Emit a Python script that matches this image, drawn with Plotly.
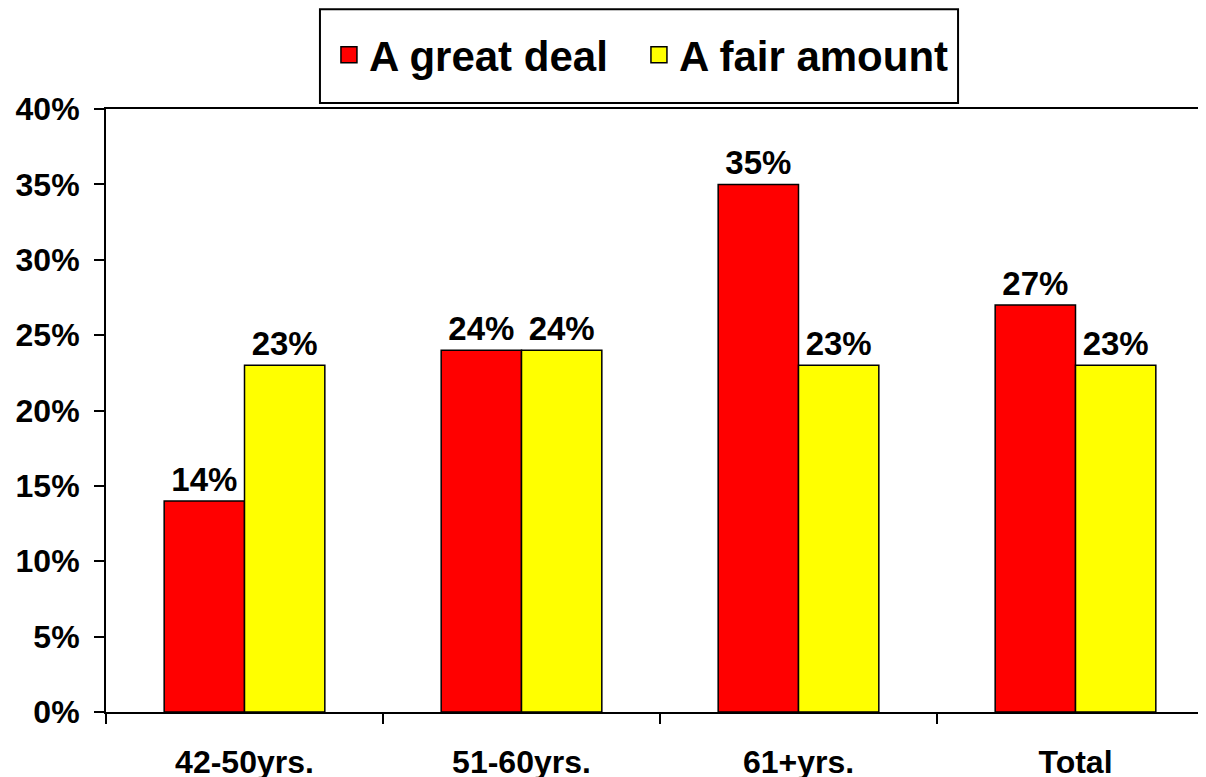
import plotly.graph_objects as go

categories = ["42-50yrs.", "51-60yrs.", "61+yrs.", "Total"]
great_deal = [14, 24, 35, 27]
fair_amount = [23, 24, 23, 23]
series_names = ["A great deal", "A fair amount"]
series_colors = ["#FF0000", "#FFFF00"]
tick_vals = [0, 5, 10, 15, 20, 25, 30, 35, 40]
tick_text = [f"{v}%" for v in tick_vals]

FONT = "Liberation Sans, Arial, sans-serif"

fig = go.Figure()
for name, vals, col in [(series_names[0], great_deal, series_colors[0]),
                        (series_names[1], fair_amount, series_colors[1])]:
    fig.add_trace(go.Bar(
        x=categories, y=vals, name=name, showlegend=False,
        marker=dict(color=col, line=dict(color="#000000", width=1.5)),
        text=[f"{v}%" for v in vals],
        textposition="outside",
        textfont=dict(family=FONT, size=33, color="#000000", weight="bold"),
        cliponaxis=False,
    ))

# legend proxies (larger square swatches)
for name, col in zip(series_names, series_colors):
    fig.add_trace(go.Scatter(
        x=[categories[0]], y=[None], mode="markers", name=name,
        marker=dict(symbol="square", size=16, color=col,
                    line=dict(color="#000000", width=1.5)),
        hoverinfo="skip",
    ))

fig.update_layout(
    width=1206, height=777,
    margin=dict(l=98, r=0, t=101, b=73),
    paper_bgcolor="white", plot_bgcolor="white",
    barmode="group", bargap=0.42, bargroupgap=0,
    font=dict(family=FONT, color="#000000"),
    showlegend=True,
    legend=dict(
        orientation="h", x=0.481, xanchor="center", y=1.0896, yanchor="middle",
        borderwidth=0, bgcolor="rgba(0,0,0,0)",
        font=dict(family=FONT, size=42, color="#000000", weight="bold"),
        itemwidth=30, traceorder="normal",
        entrywidth=265, entrywidthmode="pixels",
    ),
    shapes=[dict(type="rect", xref="paper", yref="paper",
                 x0=0.1931, x1=0.769, y0=1.010, y1=1.1655,
                 line=dict(color="#000000", width=2), fillcolor="white",
                 layer="below")],
)
fig.update_xaxes(
    type="category", range=[-0.5, 3.5],
    showline=True, linecolor="#000000", linewidth=2, mirror=True,
    ticks="outside", tickson="boundaries", ticklen=10, tickwidth=2, tickcolor="#000000",
    tickfont=dict(family=FONT, size=32, color="#000000", weight="bold"),
    ticklabelstandoff=21, showgrid=False,
)
fig.update_yaxes(
    range=[0, 40], tickvals=tick_vals, ticktext=tick_text,
    showline=True, linecolor="#000000", linewidth=2, mirror=False,
    ticks="outside", ticklen=10, tickwidth=2, tickcolor="#000000",
    tickfont=dict(family=FONT, size=32, color="#000000", weight="bold"),
    ticklabelstandoff=8, showgrid=False, zeroline=False,
)

fig.write_html("out.html")
